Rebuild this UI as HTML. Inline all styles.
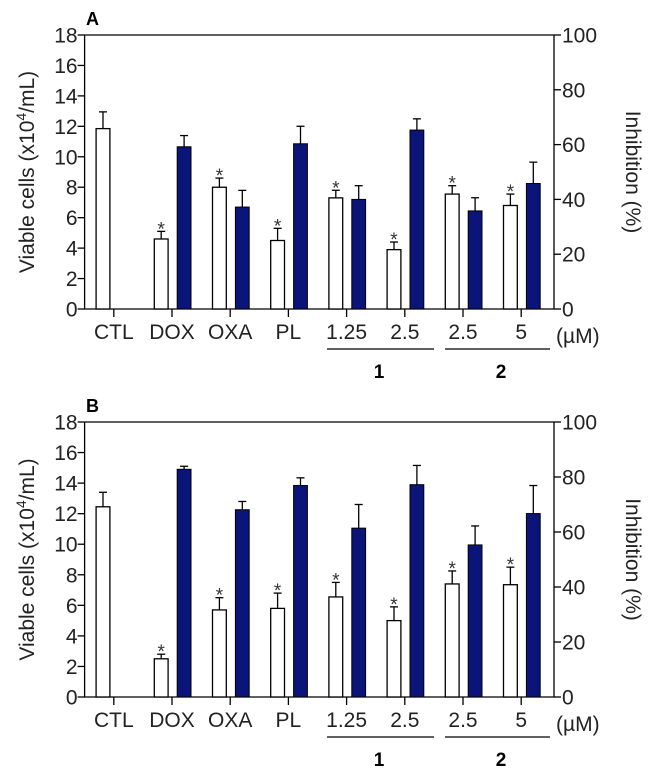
<!DOCTYPE html>
<html><head><meta charset="utf-8"><style>
html,body{margin:0;padding:0;background:#fff;}
svg{display:block;font-family:"Liberation Sans",Arial,sans-serif;}
</style></head><body>
<svg id="fig" width="650" height="772" viewBox="0 0 650 772"></svg>
<script>
const categories = ["CTL","DOX","OXA","PL","1.25","2.5","2.5","5"];
const leftTicks = [0,2,4,6,8,10,12,14,16,18];
const rightTicks = [0,20,40,60,80,100];
// Panel A
const aViable = [11.85,4.6,8.0,4.5,7.3,3.9,7.55,6.8];
const aViableErr = [1.1,0.5,0.6,0.8,0.5,0.5,0.55,0.75];
const aInhib = [null,59.2,37.2,60.3,40.0,65.3,35.8,45.8];
const aInhibErr = [null,4.1,6.1,6.4,5.0,4.1,4.8,7.8];
// Panel B
const bViable = [12.45,2.5,5.7,5.8,6.55,5.0,7.4,7.35];
const bViableErr = [0.95,0.3,0.8,1.0,0.95,0.9,0.85,1.15];
const bInhib = [null,82.8,68.1,76.9,61.4,77.2,55.3,66.7];
const bInhibErr = [null,1.1,3.0,2.8,8.6,7.0,6.9,10.2];
const signif = [false,true,true,true,true,true,true,true];

const NS="http://www.w3.org/2000/svg";
const svg=document.getElementById('fig');
function mk(tag,attrs,parent){const e=document.createElementNS(NS,tag);for(const k in attrs)e.setAttribute(k,attrs[k]);(parent||svg).appendChild(e);return e;}

function panel(label, top, bottom, viable, vErr, inhib, iErr, pname){
  const g=mk('g',{});
  
  
  const L=84.6,R=554;
  const yL=v=>bottom-(v/18)*(bottom-top);
  const yR=v=>bottom-(v/100)*(bottom-top);
  const xC=i=>113.8+i*58.2;
  const st={stroke:'#000','stroke-width':1.3,fill:'none'};
  const ax=mk('path',Object.assign({d:`M${L},${top}V${bottom}H${R}V${top}M${L},${top}H${R}`},st),g);
  
  
  leftTicks.forEach(t=>{
    const y=yL(t);
    mk('line',Object.assign({x1:L-7,x2:L,y1:y,y2:y},st),g);
    const tx=mk('text',{x:L-7,y:y+7.5,'text-anchor':'end','font-size':21,fill:'#222'},g);
    tx.textContent=t;
    
    
  });
  rightTicks.forEach(t=>{
    const y=yR(t);
    mk('line',Object.assign({x1:R,x2:R+7,y1:y,y2:y},st),g);
    const tx=mk('text',{x:R+8,y:y+7.5,'font-size':21,fill:'#222'},g);
    tx.textContent=t;
    
    
  });
  categories.forEach((c,i)=>{
    const x=xC(i);
    mk('line',Object.assign({x1:x,x2:x,y1:bottom,y2:bottom+8},st),g);
    const tx=mk('text',{x:x,y:bottom+30,'text-anchor':'middle','font-size':21,fill:'#222'},g);
    tx.textContent=c;
    
    
    const wx=x-17.7,w=13.8;
    const vy=yL(viable[i]), ey=yL(viable[i]+vErr[i]);
    mk('line',Object.assign({x1:wx+w/2,x2:wx+w/2,y1:vy,y2:ey},st),g);
    mk('line',Object.assign({x1:wx+w/2-4,x2:wx+w/2+4,y1:ey,y2:ey},st),g);
    const wb=mk('rect',{x:wx,y:vy,width:w,height:bottom-vy,fill:'#fff',stroke:'#000','stroke-width':1.3},g);
    
    
    if(signif[i]){
      const s=mk('text',{x:wx+w/2,y:ey+4,'text-anchor':'middle','font-size':19,fill:'#333'},g);
      s.textContent='*';
      
      
    }
    if(inhib[i]!=null){
      const bx=x+5.2;
      const by=yR(inhib[i]), bey=yR(inhib[i]+iErr[i]);
      mk('line',Object.assign({x1:bx+w/2,x2:bx+w/2,y1:by,y2:bey},st),g);
      mk('line',Object.assign({x1:bx+w/2-4,x2:bx+w/2+4,y1:bey,y2:bey},st),g);
      const bb=mk('rect',{x:bx,y:by,width:w,height:bottom-by,fill:'#0b1478',stroke:'#000','stroke-width':1},g);
      
      
    }
  });
  const um=mk('text',{x:556,y:bottom+34,'font-size':21,fill:'#222'},g);
  um.textContent='(µM)';
  
  
  mk('line',{x1:327,x2:434,y1:bottom+40,y2:bottom+40,stroke:'#000','stroke-width':1.3},g);
  mk('line',{x1:445,x2:550,y1:bottom+40,y2:bottom+40,stroke:'#000','stroke-width':1.3},g);
  [[379,'1'],[501,'2']].forEach(([x,t])=>{
    const tx=mk('text',{x:x,y:bottom+69,'text-anchor':'middle','font-size':19,'font-weight':'bold'},g);
    tx.textContent=t;
    
    
  });
  const pl=mk('text',{x:86,y:top-10,'font-size':18,'font-weight':'bold'},g);
  pl.textContent=label;
  
  
  const mid=(top+bottom)/2;
  const lt=mk('text',{x:0,y:0,'text-anchor':'middle','font-size':21,fill:'#222',transform:`translate(34,${mid}) rotate(-90)`},g);
  lt.innerHTML='Viable cells (x10<tspan dy="-8" font-size="14">4</tspan><tspan dy="8">/mL)</tspan>';
  
  
  const rt=mk('text',{x:0,y:0,'text-anchor':'middle','font-size':21,fill:'#222',transform:`translate(626,${mid}) rotate(90)`},g);
  rt.textContent='Inhibition (%)';
  
  
}
panel('A',35,309,aViable,aViableErr,aInhib,aInhibErr,'panel-a');
panel('B',422,697,bViable,bViableErr,bInhib,bInhibErr,'panel-b');
</script>
</body></html>
